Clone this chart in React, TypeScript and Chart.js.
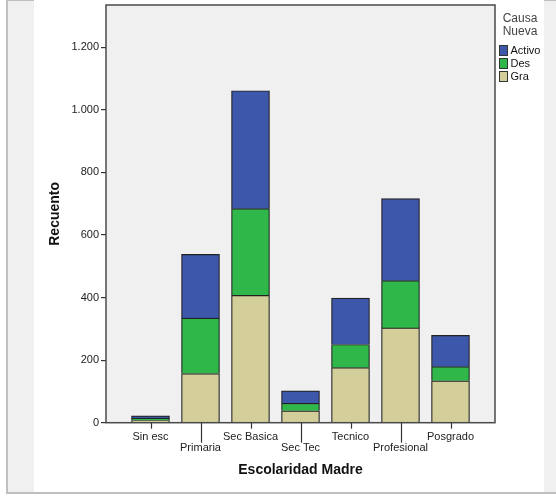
import React, { useEffect, useRef } from "react";
import { Chart, registerables } from "chart.js";

Chart.register(...registerables);

const categories = ["Sin esc", "Primaria", "Sec Basica", "Sec Tec", "Tecnico", "Profesional", "Posgrado"];
const graValues = [7, 157, 407, 38, 176, 303, 134];
const desValues = [7, 177, 277, 24, 74, 151, 45];
const activoValues = [8, 204, 377, 40, 148, 262, 100];
const yTicks = [0, 200, 400, 600, 800, 1000, 1200];
const legendTitle = ["Causa", "Nueva"];
const seriesNames = ["Gra", "Des", "Activo"];
const seriesColors = ["#d3ce9a", "#2fb74a", "#3d57aa"];

const FONT = "'Liberation Sans', Arial, sans-serif";

const decorPlugin = {
  id: "decor",
  beforeDraw(chart: any) {
    const { ctx, chartArea: a } = chart;
    ctx.save();
    ctx.fillStyle = "#f0f0f0";
    ctx.fillRect(a.left, a.top, a.right - a.left, a.bottom - a.top);
    ctx.restore();
  },
  afterDraw(chart: any) {
    const { ctx, chartArea: a } = chart;
    const xs = chart.scales.x;
    ctx.save();
    // frame
    ctx.strokeStyle = "#4a4a4a";
    ctx.lineWidth = 1.5;
    ctx.strokeRect(a.left, a.top, a.right - a.left, a.bottom - a.top);
    // x tick marks (staggered)
    ctx.strokeStyle = "#333";
    ctx.lineWidth = 1.2;
    categories.forEach((_, i) => {
      const px = Math.round(xs.getPixelForValue(i)) + 0.5;
      ctx.beginPath();
      ctx.moveTo(px, a.bottom);
      ctx.lineTo(px, a.bottom + (i % 2 ? 20 : 6));
      ctx.stroke();
    });
    // legend
    ctx.fillStyle = "#444";
    ctx.font = `12px ${FONT}`;
    ctx.textAlign = "center";
    ctx.textBaseline = "middle";
    ctx.fillText(legendTitle[0], 520, 18.5);
    ctx.fillText(legendTitle[1], 520, 31.5);
    const ds = chart.data.datasets.slice().reverse();
    ctx.font = `11px ${FONT}`;
    ctx.textAlign = "left";
    ds.forEach((d: any, i: number) => {
      const y = 45 + i * 13;
      ctx.fillStyle = d.backgroundColor;
      ctx.fillRect(499, y, 8, 10);
      ctx.strokeStyle = "#333";
      ctx.lineWidth = 1;
      ctx.strokeRect(499.5, y + 0.5, 8, 10);
      ctx.fillStyle = "#111";
      ctx.fillText(d.label, 510.5, y + 5.5);
    });
    ctx.restore();
  },
};

export default function App() {
  const ref = useRef<HTMLCanvasElement | null>(null);

  useEffect(() => {
    if (!ref.current) return;
    const values = [graValues, desValues, activoValues];
    const chart = new Chart(ref.current, {
      type: "bar",
      data: {
        datasets: seriesNames.map((name, s) => ({
          label: name,
          data: categories.map((_, i) => ({ x: i, y: values[s][i] })),
          backgroundColor: seriesColors[s],
          borderColor: "#222",
          borderWidth: 1.2,
          barThickness: 38,
        })),
      },
      options: {
        animation: false,
        responsive: false,
        events: [],
        layout: { padding: { left: 34, right: 61, top: 5, bottom: 6 } },
        plugins: { legend: { display: false }, tooltip: { enabled: false } },
        scales: {
          x: {
            type: "linear",
            stacked: true,
            offset: false,
            min: -0.89,
            max: 6.89,
            afterFit: (s: any) => {
              s.height = 69.3;
              s.paddingLeft = 0;
              s.paddingRight = 0;
            },
            grid: { display: false, drawTicks: false, offset: false },
            border: { display: false },
            ticks: {
              stepSize: 1,
              includeBounds: false,
              autoSkip: false,
              maxRotation: 0,
              padding: 8.8,
              color: "#222",
              font: { family: FONT, size: 11, lineHeight: 1.0 },
              callback: (v: any) => {
                const i = Number(v);
                if (!Number.isInteger(i) || i < 0 || i >= categories.length) return "";
                return i % 2 ? ["", categories[i]] : categories[i];
              },
            },
            title: {
              display: true,
              text: "Escolaridad Madre",
              color: "#111",
              font: { family: FONT, size: 14, weight: "bold" },
              padding: { top: 0, bottom: 13.2 },
            },
          },
          y: {
            stacked: true,
            min: 0,
            max: 1335,
            afterFit: (s: any) => {
              s.width = 72;
              s.paddingTop = 0;
              s.paddingBottom = 0;
            },
            afterBuildTicks: (s: any) => {
              s.ticks = yTicks.map((v) => ({ value: v }));
            },
            grid: { drawOnChartArea: false, drawTicks: true, tickLength: 5, color: "#333", lineWidth: 1.2 },
            border: { display: false },
            ticks: {
              padding: 2,
              color: "#222",
              font: { family: FONT, size: 11 },
              callback: (v: any) => Number(v).toLocaleString("de-DE"),
            },
            title: {
              display: true,
              text: "Recuento",
              color: "#111",
              font: { family: FONT, size: 14, weight: "bold" },
              padding: { top: 13, bottom: 0 },
            },
          },
        },
      },
      plugins: [decorPlugin],
    } as any);
    return () => chart.destroy();
  }, []);

  return (
    <div style={{ position: "absolute", left: 0, top: 0, width: 556, height: 498, background: "#fff" }}>
      <div
        style={{
          position: "absolute",
          left: 6,
          top: 0,
          width: 550,
          height: 494,
          background: "#f0f0f0",
          borderLeft: "2px solid #c0c0c0",
          borderTop: "1px solid #c0c0c0",
          borderBottom: "2px solid #c0c0c0",
          boxSizing: "border-box",
        }}
      />
      <div style={{ position: "absolute", left: 34, top: 0, width: 510, height: 492, background: "#fff" }} />
      <canvas ref={ref} width={556} height={498} style={{ position: "absolute", left: 0, top: 0 }} />
    </div>
  );
}
